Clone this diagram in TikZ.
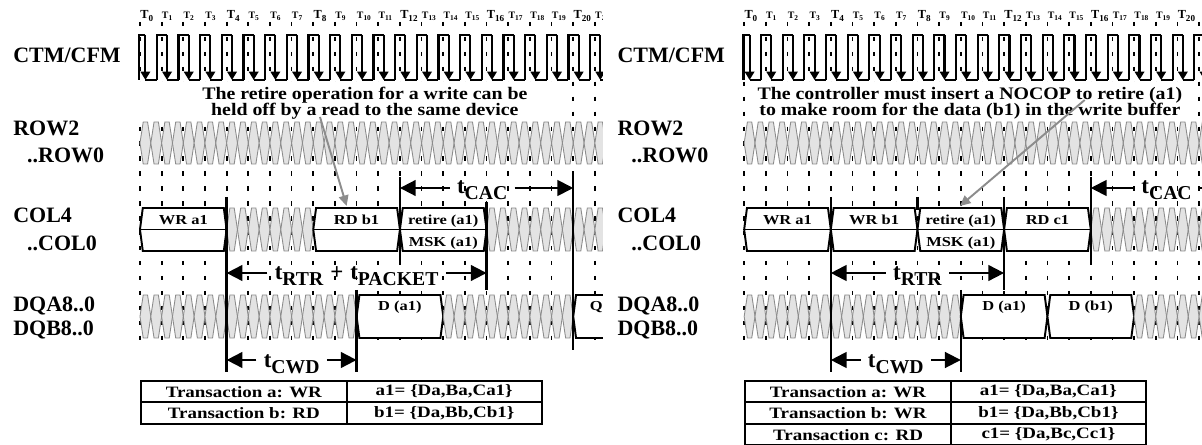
\documentclass[tikz,border=0pt]{standalone}
\usepackage{fontspec}
\setmainfont{Liberation Serif}
\newfontfamily\notefont{Liberation Serif}[FakeStretch=1.13]
\newfontfamily\pktfont{Liberation Serif}[FakeStretch=1.2]
\newfontfamily\tabfont{Liberation Serif}[FakeStretch=1.2]
\usetikzlibrary{arrows.meta}

\definecolor{busgray}{gray}{0.89}
\definecolor{busline}{gray}{0.55}
\definecolor{arrowgray}{gray}{0.55}

\newcommand\tsub[1]{t\raisebox{-3.4pt}{\fontsize{11.2}{12}\selectfont #1}}

% bus of crossing data eyes, two per clock period
\newcommand\bus[4]{%
  \pgfmathtruncatemacro\busN{2*(#2-#1)-1}%
  \foreach \i in {0,...,\busN} {%
    \pgfmathsetmacro\busX{#1+\i/2}%
    \filldraw[busfill] (\busX,{(#3+#4)/2}) -- (\busX+0.15,#3) -- (\busX+0.35,#3)
      -- (\busX+0.5,{(#3+#4)/2}) -- (\busX+0.35,#4) -- (\busX+0.15,#4) -- cycle;
  }}
\newcommand\pkt[4]{%
  \filldraw[pktbox] (#1,{(#3+#4)/2}) -- (#1+0.13,#3) -- (#2-0.13,#3)
    -- (#2,{(#3+#4)/2}) -- (#2-0.13,#4) -- (#1+0.13,#4) -- cycle;}
\newcommand\colpkt[2]{\pkt{#1}{#2}{208}{251}\draw[pktline] (#1,229.5) -- (#2,229.5);}

% #1 prefix, #2 last T label
\newcommand\panelbase[2]{%
  \foreach \k in {0,...,21} \draw[gridtick] (\k,22) -- (\k,345);
  \foreach \k in {0,...,#2} {
    \pgfmathtruncatemacro\isbig{mod(\k,4)==0}
    \ifnum\isbig=1
      \node[tbig] (#1-T\k) at (\k,19) {T\raisebox{-1.2pt}{\fontsize{5.2}{6}\selectfont\k}};
    \else
      \node[tsmall] (#1-T\k) at (\k,19) {T\raisebox{-1pt}{\fontsize{4.2}{5}\selectfont\k}};
    \fi
  }
  \foreach \k in {0,...,21} {
    \pgfmathsetmacro\xr{max(\k-0.22,-0.03)}
    \draw[clk] (\xr,80) -- (\xr,35) -- (\k+0.25,35);
    \draw[clkarr] (\k+0.25,35) -- (\k+0.25,80);
    \draw[clk] (\k+0.25,80) -- (\k+0.78,80);
  }
  \bus{0}{22}{122}{164}}

\newcommand\panellabels[1]{%
  \node[sig] (#1-ctm) at (-5.86,63) {CTM/CFM};
  \node[sig] (#1-row2) at (-5.86,136) {ROW2};
  \node[sig] (#1-row0) at (-5.22,163) {..ROW0};
  \node[sig] (#1-col4) at (-5.86,223) {COL4};
  \node[sig] (#1-col0) at (-5.22,251) {..COL0};
  \node[sig] (#1-dqa) at (-5.86,312) {DQA8..0};
  \node[sig] (#1-dqb) at (-5.86,336) {DQB8..0};}

\begin{document}
\begin{tikzpicture}[x=0.02cm,y=-0.02cm,
    gridtick/.style={line width=1pt,dash pattern=on 2.5pt off 6pt},
    clk/.style={line width=1.2pt},
    clkarr/.style={line width=1.2pt,-{Triangle[length=4.8pt,width=5.4pt]}},
    busfill/.style={fill=busgray,draw=busline,line width=0.5pt},
    pktbox/.style={fill=white,draw=black,line width=1.1pt},
    pktline/.style={line width=1.1pt},
    edgeline/.style={line width=1.3pt},
    tarr/.style={line width=1.1pt,-{Triangle[length=9pt,width=9pt]}},
    notearr/.style={draw=arrowgray,line width=1.1pt,-{Triangle[length=6pt,width=5.5pt]}},
    sig/.style={anchor=base west,inner sep=0pt,font=\bfseries\fontsize{12.5}{14}\selectfont},
    note/.style={align=center,inner sep=0pt,font=\notefont\bfseries\fontsize{10}{9.3}\selectfont},
    plab/.style={anchor=base,inner sep=0pt,font=\pktfont\bfseries\fontsize{7.8}{8}\selectfont},
    tlab/.style={anchor=base,inner xsep=4pt,inner ysep=0pt,font=\bfseries\fontsize{13}{14}\selectfont},
    tbig/.style={anchor=base west,inner sep=0pt,font=\bfseries\fontsize{7}{7}\selectfont},
    tsmall/.style={anchor=base west,inner sep=0pt,font=\bfseries\fontsize{5.6}{6}\selectfont},
    cell/.style={draw,line width=1.1pt,anchor=north west,minimum height=0.43cm,inner sep=0pt,
      font=\tabfont\bfseries\fontsize{9}{9}\selectfont}]

  \useasboundingbox (0,0) rectangle (1202,445);

  % left: write then read to the same device
  \begin{scope}[shift={(2.8cm,0cm)},x=0.43333cm]
    \panellabels{L}
    \begin{scope}
      \clip (-0.3,0) rectangle (21.37,445);
      \panelbase{L}{21}
      \colpkt{0}{4}
      \bus{4}{8}{208}{251}
      \colpkt{8}{12}
      \colpkt{12}{16}
      \bus{16}{22}{208}{251}
      \node[plab] (L-wra1) at (2,225) {WR a1};
      \node[plab] (L-rdb1) at (10,225) {RD b1};
      \node[plab] (L-ret) at (14,225) {retire (a1)};
      \node[plab] (L-msk) at (14,247) {MSK (a1)};

      \bus{0}{10}{295}{338}
      \pkt{10}{14}{295}{338}
      \bus{14}{20}{295}{338}
      \pkt{20}{24}{295}{338}
      \node[plab] (L-da1) at (12,311) {D (a1)};
      \node[plab,anchor=base west] (L-q) at (20.75,311) {Q};

      \draw[edgeline] (4,197) -- (4,372);
      \draw[edgeline] (12,177) -- (12,262);
      \draw[edgeline] (16,202) -- (16,290);
      \draw[edgeline] (20,175) -- (20,350);
      \draw[edgeline] (10,290) -- (10,372);

      \coordinate (L-cacA) at (12,188);
      \coordinate (L-cacB) at (20,188);
      \node[tlab] (L-cac) at (15.8,194) {\tsub{CAC}};
      \draw[tarr] (L-cac.west |- L-cacA) -- (L-cacA);
      \draw[tarr] (L-cac.east |- L-cacB) -- (L-cacB);

      \coordinate (L-rtrA) at (4,273);
      \coordinate (L-rtrB) at (16,273);
      \node[tlab] (L-rtr) at (10,280) {\tsub{RTR}\hspace{4pt}+\hspace{4pt}\tsub{PACKET}};
      \draw[tarr] (L-rtr.west |- L-rtrA) -- (L-rtrA);
      \draw[tarr] (L-rtr.east |- L-rtrB) -- (L-rtrB);

      \coordinate (L-cwdA) at (4,360);
      \coordinate (L-cwdB) at (10,360);
      \node[tlab] (L-cwd) at (7,368) {\tsub{CWD}};
      \draw[tarr] (L-cwd.west |- L-cwdA) -- (L-cwdA);
      \draw[tarr] (L-cwd.east |- L-cwdB) -- (L-cwdB);

      \fill[white] (-0.15,82) rectangle (19.4,121);
      \node[note] (L-note) at (10.38,103) {The retire operation for a write can be\\held off by a read to the same device};
      \coordinate (L-tail) at (8.31,117);
      \coordinate (L-tip) at (9.54,206);
      \draw[notearr] (L-tail) -- (L-tip);
    \end{scope}

    \node[cell,minimum width=4.117cm] (L-ta) at (0,380) {Transaction a: WR};
    \node[cell,minimum width=3.9cm] (L-tav) at (9.5,380) {a1= \{Da,Ba,Ca1\}};
    \node[cell,minimum width=4.117cm] (L-tb) at (0,401.5) {Transaction b: RD};
    \node[cell,minimum width=3.9cm] (L-tbv) at (9.5,401.5) {b1= \{Da,Bb,Cb1\}};
  \end{scope}

  % right: NOCOP retires the write first
  \begin{scope}[shift={(14.886cm,0cm)},x=0.43333cm]
    \panellabels{R}
    \begin{scope}
      \clip (-0.3,0) rectangle (21.37,445);
      \panelbase{R}{20}
      \colpkt{0}{4}
      \colpkt{4}{8}
      \colpkt{8}{12}
      \colpkt{12}{16}
      \bus{16}{22}{208}{251}
      \node[plab] (R-wra1) at (2,225) {WR a1};
      \node[plab] (R-wrb1) at (6,225) {WR b1};
      \node[plab] (R-ret) at (10,225) {retire (a1)};
      \node[plab] (R-msk) at (10,247) {MSK (a1)};
      \node[plab] (R-rdc1) at (14,225) {RD c1};

      \bus{0}{10}{295}{338}
      \pkt{10}{14}{295}{338}
      \pkt{14}{18}{295}{338}
      \bus{18}{22}{295}{338}
      \node[plab] (R-da1) at (12,311) {D (a1)};
      \node[plab] (R-db1) at (16,311) {D (b1)};

      \draw[edgeline] (4,197) -- (4,372);
      \draw[edgeline] (8,197) -- (8,210);
      \draw[edgeline] (12,197) -- (12,290);
      \draw[edgeline] (16,177) -- (16,265);
      \draw[edgeline] (10,290) -- (10,372);

      \coordinate (R-cacA) at (16,188);
      \coordinate (R-cacB) at (24,188);
      \node[tlab] (R-cac) at (19.5,194) {\tsub{CAC}};
      \draw[tarr] (R-cac.west |- R-cacA) -- (R-cacA);
      \draw[tarr] (R-cac.east |- R-cacB) -- (R-cacB);

      \coordinate (R-rtrA) at (4,273);
      \coordinate (R-rtrB) at (12,273);
      \node[tlab] (R-rtr) at (8,280) {\tsub{RTR}};
      \draw[tarr] (R-rtr.west |- R-rtrA) -- (R-rtrA);
      \draw[tarr] (R-rtr.east |- R-rtrB) -- (R-rtrB);

      \coordinate (R-cwdA) at (4,360);
      \coordinate (R-cwdB) at (10,360);
      \node[tlab] (R-cwd) at (7,368) {\tsub{CWD}};
      \draw[tarr] (R-cwd.west |- R-cwdA) -- (R-cwdA);
      \draw[tarr] (R-cwd.east |- R-cwdB) -- (R-cwdB);

      \fill[white] (0.8,82) rectangle (20.45,121);
      \node[note] (R-note) at (10.42,103) {The controller must insert a NOCOP to retire (a1)\\to make room for the data (b1) in the write buffer};
      \coordinate (R-tail) at (15.72,100);
      \coordinate (R-tip) at (9.96,206);
      \draw[notearr] (R-tail) -- (R-tip);
    \end{scope}

    \node[cell,minimum width=4.117cm] (R-ta) at (0,380) {Transaction a: WR};
    \node[cell,minimum width=3.9cm] (R-tav) at (9.5,380) {a1= \{Da,Ba,Ca1\}};
    \node[cell,minimum width=4.117cm] (R-tb) at (0,401.5) {Transaction b: WR};
    \node[cell,minimum width=3.9cm] (R-tbv) at (9.5,401.5) {b1= \{Da,Bb,Cb1\}};
    \node[cell,minimum width=4.117cm] (R-tc) at (0,423) {Transaction c: RD};
    \node[cell,minimum width=3.9cm] (R-tcv) at (9.5,423) {c1= \{Da,Bc,Cc1\}};
  \end{scope}
\end{tikzpicture}
\end{document}
